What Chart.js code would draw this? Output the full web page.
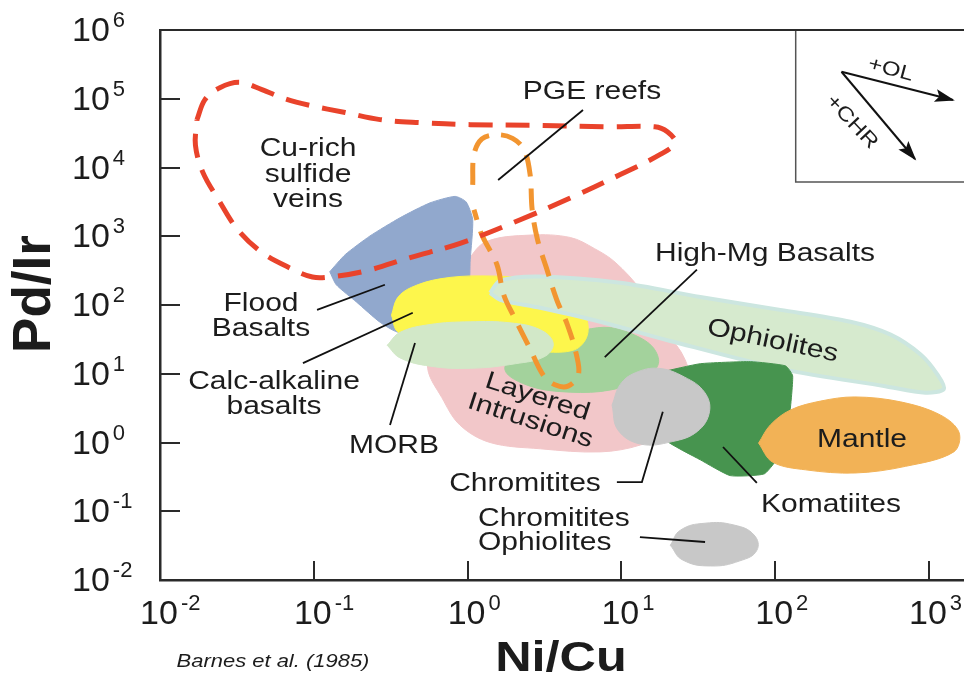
<!DOCTYPE html>
<html>
<head>
<meta charset="utf-8">
<script src="https://cdn.jsdelivr.net/npm/chart.js@4.4.1/dist/chart.umd.min.js"></script>
<style>
  html, body { margin: 0; padding: 0; background: #fff; }
  canvas { display: block; }
</style>
</head>
<body>
<canvas id="pge-diagram" width="964" height="675"></canvas>
<script>
const X_TICKS = [0.01, 0.1, 1, 10, 100, 1000]
const Y_TICKS = [0.01, 0.1, 1, 10, 100, 1e3, 1e4, 1e5, 1e6]

// field outlines as [Ni/Cu, Pd/Ir] pairs
const layeredIntrusions = [[0.96, 390], [1.3, 820], [2.55, 1040], [4.65, 960], [6.7, 660], [9.1, 420], [13.3, 167], [19.3, 43.6], [26, 15.9], [28, 5.8], [20.8, 1.52], [13.3, 0.92], [7.3, 0.73], [2.97, 0.81], [1.4, 1.0], [0.89, 1.8], [0.68, 4.5], [0.55, 12], [0.61, 31], [0.77, 119]]
const floodBasalts = [[0.127, 305], [0.16, 540], [0.232, 1010], [0.364, 1860], [0.57, 3060], [0.83, 3800], [0.98, 3150], [1.08, 1740], [1.04, 455], [1.0, 167], [0.663, 85], [0.364, 40], [0.27, 56], [0.19, 110], [0.14, 197]]
const highMgBasalts = [[2.2, 26], [3.7, 34], [5.8, 43.6], [8.47, 47], [12.4, 36], [16.1, 24], [17.4, 14], [14.3, 8.7], [8.47, 5.8], [4.65, 5.4], [2.55, 6.6], [1.75, 11.4]]
const calcAlkaline = [[0.32, 71], [0.35, 127], [0.43, 180], [0.66, 240], [1.21, 265], [2.55, 233], [4.3, 140], [5.8, 71], [6.0, 36], [4.95, 22.3], [2.97, 21], [1.21, 26], [0.49, 31], [0.35, 41]]
const morb = [[0.3, 26], [0.364, 40], [0.57, 52], [1.04, 57], [1.89, 55], [2.97, 43.6], [3.6, 28], [3.2, 18], [2.05, 14], [1.04, 12], [0.57, 12.9], [0.364, 17]]
const ophiolites = [[1.4, 150], [1.63, 226], [2.97, 260], [9.84, 210], [32.6, 131], [108, 85], [309, 57], [563, 37], [883, 19], [1140, 9.6], [1250, 6.0], [950, 5.3], [520, 6.6], [117, 11.4], [20.8, 30], [7.29, 57], [2.97, 91], [1.63, 119]]
const komatiites = [[17.9, 10.5], [32.6, 14], [69, 15], [117, 13], [130, 9.3], [123, 2.13], [108, 0.68], [85, 0.35], [51, 0.33], [32.6, 0.56], [19.3, 1.09], [15.4, 2.98]]
const chromitites = [[8.7, 3.5], [9.84, 7.0], [12.3, 10.3], [17.4, 12], [25.6, 9.0], [34.7, 5.4], [37.4, 2.8], [31.2, 1.45], [21.4, 1.03], [13.3, 0.95], [9.5, 1.52]]
const mantle = [[78, 0.98], [93, 1.8], [126, 2.98], [197, 4.0], [330, 4.6], [654, 3.9], [1192, 2.5], [1570, 1.4], [1450, 0.73], [705, 0.45], [330, 0.36], [158, 0.4], [96, 0.52]]
const chromititesOphiolites = [[20.8, 0.032], [24.2, 0.053], [35, 0.067], [54, 0.063], [73, 0.045], [76, 0.027], [59, 0.019], [38, 0.016], [25, 0.0196]]
const pgeReefs = [[1.08, 5600], [1.1, 1.54e4], [1.24, 2.6e4], [1.55, 3.0e4], [1.96, 2.65e4], [2.33, 1.82e4], [2.55, 7900], [2.63, 2430], [2.85, 890], [3.25, 350], [3.8, 119], [4.45, 52], [5.1, 19], [5.25, 9.6], [4.5, 6.6], [3.7, 6.9], [3.1, 9.6], [2.55, 23], [2.05, 61], [1.72, 140], [1.55, 390], [1.24, 1040], [1.1, 2430]]
const cuRichVeins = [[0.0174, 4.97e4], [0.0196, 9.7e4], [0.0245, 1.45e5], [0.0331, 1.73e5], [0.046, 1.36e5], [0.065, 1.0e5], [0.0945, 8.0e4], [0.16, 6.3e4], [0.27, 4.97e4], [0.49, 4.5e4], [1.04, 4.2e4], [2.97, 4.1e4], [8.47, 3.9e4], [16.5, 3.9e4], [19.9, 3.3e4], [22.4, 2.3e4], [17.9, 1.55e4], [9.84, 7900], [4.65, 3600], [2.2, 1740], [0.894, 790], [0.423, 490], [0.215, 310], [0.127, 255], [0.098, 255], [0.07, 345], [0.046, 580], [0.032, 1245], [0.024, 3400], [0.019, 8500], [0.017, 2.1e4]]

// pointer lines from labels into fields
const leaderLines = [
  [[5.63, 6.86e4], [1.58, 6580]],
  [[0.105, 85], [0.29, 197]],
  [[0.085, 14.3], [0.44, 77]],
  [[0.313, 1.8], [0.455, 28]],
  [[31, 326], [7.8, 17.5]],
  [[9.35, 0.266], [13.6, 0.266], [18.6, 2.8]],
  [[45.8, 0.86], [76, 0.258]],
  [[13.2, 0.042], [35, 0.0357]]
]

// inset with fractionation vectors
const insetFrame = [[136, 1e6], [136, 6150], [2000, 6150]]
const olVector = [[270, 2.47e5], [1432, 9.6e4]]
const chrVector = [[270, 2.47e5], [811, 1.33e4]]

const FONT = "'Liberation Sans', Arial, sans-serif"
const INK = '#1c1c1c'

const labels = [
  { lines: ['Cu-rich', 'sulfide', 'veins'], x: 308, y: 147, lh: 25.5 },
  { lines: ['PGE reefs'], x: 592, y: 90 },
  { lines: ['Flood', 'Basalts'], x: 261, y: 302, lh: 25 },
  { lines: ['Calc-alkaline', 'basalts'], x: 274, y: 380, lh: 25 },
  { lines: ['MORB'], x: 394, y: 444 },
  { lines: ['High-Mg Basalts'], x: 765, y: 252 },
  { lines: ['Ophiolites'], x: 773, y: 339, rot: 12 },
  { lines: ['Layered'], x: 538, y: 395, rot: 18 },
  { lines: ['Intrusions'], x: 531, y: 419, rot: 18 },
  { lines: ['Chromitites'], x: 525, y: 482 },
  { lines: ['Chromitites', 'Ophiolites'], x: 478, y: 517, lh: 24, align: 'left' },
  { lines: ['Mantle'], x: 862, y: 438 },
  { lines: ['Komatiites'], x: 831, y: 503 },
  { lines: ['+OL'], x: 891, y: 68, rot: 15, size: 20 },
  { lines: ['+CHR'], x: 853, y: 121, rot: 47, size: 20 }
]

function drawText(ctx, text, x, y, o = {}) {
  const size = o.size || 25
  ctx.save()
  ctx.translate(x, y)
  if (o.rot) ctx.rotate(o.rot * Math.PI / 180)
  ctx.scale(o.sx || 1.2, 1)
  ctx.font = `${o.style || 'normal'} ${o.weight || 'normal'} ${size}px ${FONT}`
  ctx.fillStyle = INK
  ctx.textAlign = o.align || 'center'
  ctx.textBaseline = 'alphabetic'
  ctx.fillText(text, 0, size * 0.36)
  ctx.restore()
}

function powerLabel(ctx, exp, x, cy, centered) {
  ctx.save()
  ctx.fillStyle = INK
  ctx.textBaseline = 'alphabetic'
  ctx.textAlign = 'left'
  ctx.font = `34px ${FONT}`
  const w = ctx.measureText('10').width
  const left = centered ? x - w / 2 : x
  const base = cy + 12
  ctx.fillText('10', left, base)
  ctx.font = `22px ${FONT}`
  ctx.fillText(String(exp), left + w + 3, base - 14)
  ctx.restore()
}

const figureDecor = {
  id: 'figureDecor',
  afterDraw(chart) {
    const { ctx, chartArea: a, scales: { x, y } } = chart
    ctx.save()
    ctx.strokeStyle = '#2a2a2a'
    ctx.lineWidth = 2
    ctx.beginPath()
    ctx.moveTo(a.left, a.top)
    ctx.lineTo(a.right, a.top)
    ctx.stroke()
    // inward tick marks
    x.ticks.forEach(t => {
      if (t.value <= x.min) return
      const px = Math.round(x.getPixelForValue(t.value))
      ctx.beginPath()
      ctx.moveTo(px, a.bottom)
      ctx.lineTo(px, a.bottom - 19)
      ctx.stroke()
    })
    y.ticks.forEach(t => {
      if (t.value <= y.min || t.value >= y.max) return
      const py = Math.round(y.getPixelForValue(t.value))
      ctx.beginPath()
      ctx.moveTo(a.left, py)
      ctx.lineTo(a.left + 20, py)
      ctx.stroke()
    })
    ctx.restore()

    x.ticks.forEach(t => powerLabel(ctx, Math.round(Math.log10(t.value)), x.getPixelForValue(t.value) - 1, 612, true))
    y.ticks.forEach(t => powerLabel(ctx, Math.round(Math.log10(t.value)), 72, y.getPixelForValue(t.value) - 1, false))

    // arrow heads on the vectors
    chart.data.datasets.forEach((ds, i) => {
      if (!ds.arrow) return
      const pts = chart.getDatasetMeta(i).data
      const p = pts[pts.length - 1], q = pts[pts.length - 2]
      const ang = Math.atan2(p.y - q.y, p.x - q.x)
      ctx.save()
      ctx.translate(p.x, p.y)
      ctx.rotate(ang)
      ctx.fillStyle = '#111'
      ctx.beginPath()
      ctx.moveTo(2, 0)
      ctx.lineTo(-18, -6.5)
      ctx.lineTo(-14, 0)
      ctx.lineTo(-18, 6.5)
      ctx.closePath()
      ctx.fill()
      ctx.restore()
    })

    labels.forEach(l => {
      l.lines.forEach((line, k) => {
        drawText(ctx, line, l.x, l.y + k * (l.lh || 25), { rot: l.rot, size: l.size, align: l.align })
      })
    })

    drawText(ctx, 'Pd/Ir', 31, 294, { rot: -90, size: 53, weight: 'bold', sx: 1 })
    drawText(ctx, 'Ni/Cu', 561, 656, { size: 42, weight: 'bold', sx: 1.2 })
    drawText(ctx, 'Barnes et al. (1985)', 273, 661, { size: 18, style: 'italic', sx: 1.22 })
  }
}

const toXY = pts => pts.map(([x, y]) => ({ x, y }))
const datasets = []
const field = (label, pts, color, extra = {}) => datasets.push({
  label,
  data: toXY(pts.concat([pts[0]])),
  showLine: true,
  pointRadius: 0,
  backgroundColor: color,
  borderColor: color,
  borderWidth: 1,
  fill: 'shape',
  tension: 0.35,
  ...extra
})
const stroke = (label, pts, color, width, extra = {}) => datasets.push({
  label,
  data: toXY(pts),
  showLine: true,
  pointRadius: 0,
  borderColor: color,
  borderWidth: width,
  fill: false,
  tension: 0,
  ...extra
})

field('Layered Intrusions', layeredIntrusions, '#f2c7c9')
field('Flood Basalts', floodBasalts, '#91a8cd', { tension: 0.2 })
field('High-Mg Basalts', highMgBasalts, '#a3d29c')
field('Calc-alkaline basalts', calcAlkaline, '#fdf64c')
field('MORB', morb, '#d2e8c8', { tension: 0.4 })
field('Ophiolites', ophiolites, '#d6eace', { borderColor: '#cce6e0', borderWidth: 4, tension: 0.3 })
field('Komatiites', komatiites, '#47944f', { tension: 0.15 })
field('Chromitites', chromitites, '#c8c8c8', { tension: 0.4 })
field('Mantle', mantle, '#f2b256', { tension: 0.35 })
field('Chromitites Ophiolites', chromititesOphiolites, '#c8c8c8', { tension: 0.45 })
stroke('PGE reefs', pgeReefs, '#f29530', 5, { borderDash: [22, 12], tension: 0.35 })
stroke('Cu-rich sulfide veins', cuRichVeins.concat([cuRichVeins[0]]), '#e9432b', 5, { borderDash: [24, 13], tension: 0.35 })
stroke('inset', insetFrame, '#555', 1.5)
stroke('+OL', olVector, '#111', 2, { arrow: true })
stroke('+CHR', chrVector, '#111', 2, { arrow: true })
leaderLines.forEach((pts, i) => stroke('leader ' + i, pts, '#111', 1.8))
datasets.forEach((d, i) => { d.order = datasets.length - i })

new Chart(document.getElementById('pge-diagram'), {
  type: 'scatter',
  data: { datasets },
  plugins: [figureDecor],
  options: {
    responsive: false,
    animation: false,
    devicePixelRatio: 1,
    layout: { padding: { left: 160, top: 30, right: 0, bottom: 95 } },
    plugins: { legend: { display: false }, tooltip: { enabled: false } },
    scales: {
      x: {
        type: 'logarithmic',
        min: 0.01,
        max: 1690,
        afterBuildTicks: s => { s.ticks = X_TICKS.map(v => ({ value: v })) },
        ticks: { display: false },
        grid: { display: false, drawTicks: false },
        border: { display: true, color: '#2a2a2a', width: 2.5 }
      },
      y: {
        type: 'logarithmic',
        min: 0.01,
        max: 1e6,
        afterBuildTicks: s => { s.ticks = Y_TICKS.map(v => ({ value: v })) },
        ticks: { display: false },
        grid: { display: false, drawTicks: false },
        border: { display: true, color: '#2a2a2a', width: 2.5 }
      }
    }
  }
})
</script>
</body>
</html>
